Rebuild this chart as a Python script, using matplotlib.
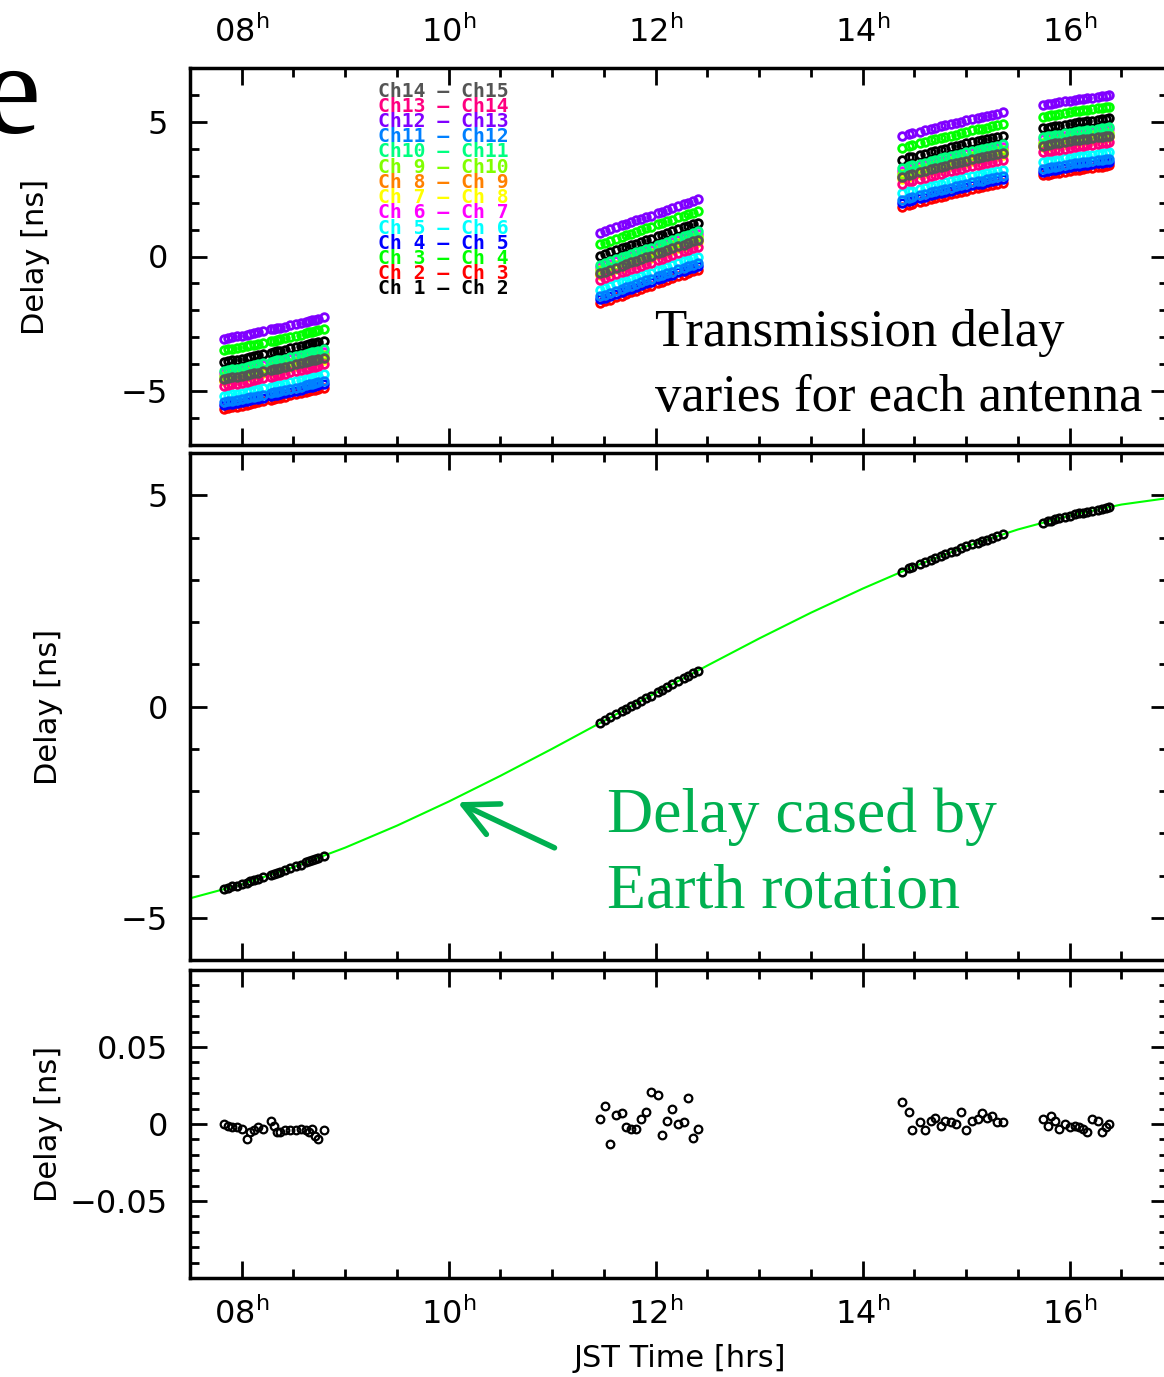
import numpy as np
import matplotlib.pyplot as plt
from matplotlib.ticker import MultipleLocator
from matplotlib.patches import FancyArrowPatch

plt.rcParams['mathtext.default'] = 'regular'
plt.rcParams['font.family'] = 'DejaVu Sans'

# model delay due to Earth rotation, read every half hour (JST hours, ns)
curve_t = [7.5, 8.0, 8.5, 9.0, 9.5, 10.0, 10.5, 11.0, 11.5, 12.0,
           12.5, 13.0, 13.5, 14.0, 14.5, 15.0, 15.5, 16.0, 16.5, 17.0]
curve_d = [-4.54, -4.21, -3.80, -3.34, -2.82, -2.25, -1.64, -1.00, -0.34, 0.32,
           0.97, 1.61, 2.22, 2.79, 3.32, 3.79, 4.19, 4.52, 4.78, 4.95]

# four observing blocks: times, measured delay, residual
t1 = [7.83, 7.87, 7.91, 7.95, 8.00, 8.05, 8.08, 8.12, 8.16, 8.21, 8.28, 8.31,
      8.34, 8.37, 8.42, 8.47, 8.52, 8.57, 8.62, 8.65, 8.68, 8.71, 8.74, 8.79]
d1 = [-4.32, -4.29, -4.26, -4.24, -4.21, -4.17, -4.14, -4.11, -4.08, -4.04, -3.98, -3.96,
      -3.93, -3.91, -3.87, -3.82, -3.78, -3.74, -3.69, -3.66, -3.63, -3.61, -3.58, -3.53]
r1 = [0.000, -0.001, -0.002, -0.002, -0.003, -0.010, -0.005, -0.004, -0.002, -0.003, 0.002, -0.001,
      -0.005, -0.005, -0.004, -0.004, -0.004, -0.003, -0.004, -0.005, -0.003, -0.008, -0.010, -0.004]

t2 = [11.46, 11.51, 11.56, 11.62, 11.67, 11.71, 11.76, 11.81, 11.86, 11.91,
      11.95, 12.02, 12.06, 12.11, 12.16, 12.22, 12.27, 12.31, 12.36, 12.41]
d2 = [-0.39, -0.33, -0.26, -0.18, -0.11, -0.06, 0.01, 0.07, 0.14, 0.20,
      0.25, 0.35, 0.40, 0.46, 0.53, 0.61, 0.67, 0.72, 0.79, 0.85]
r2 = [0.003, 0.012, -0.013, 0.006, 0.007, -0.002, -0.003, -0.003, 0.003, 0.008,
      0.021, 0.019, -0.007, 0.002, 0.010, 0.000, 0.001, 0.017, -0.009, -0.003]

t3 = [14.38, 14.45, 14.48, 14.55, 14.60, 14.66, 14.70, 14.76, 14.80, 14.85,
      14.90, 14.95, 15.00, 15.06, 15.11, 15.15, 15.20, 15.25, 15.30, 15.36]
d3 = [3.19, 3.27, 3.30, 3.37, 3.41, 3.47, 3.51, 3.56, 3.60, 3.65,
      3.69, 3.74, 3.79, 3.84, 3.88, 3.91, 3.95, 3.99, 4.03, 4.08]
r3 = [0.014, 0.008, -0.004, 0.001, -0.004, 0.002, 0.004, -0.001, 0.002, 0.001,
      0.000, 0.008, -0.004, 0.002, 0.003, 0.007, 0.004, 0.005, 0.001, 0.001]

t4 = [15.74, 15.79, 15.82, 15.86, 15.90, 15.95, 16.00, 16.05,
      16.09, 16.13, 16.17, 16.22, 16.27, 16.31, 16.35, 16.38]
d4 = [4.35, 4.38, 4.40, 4.43, 4.45, 4.49, 4.52, 4.55,
      4.57, 4.59, 4.61, 4.63, 4.66, 4.68, 4.70, 4.72]
r4 = [0.003, -0.001, 0.005, 0.002, -0.003, 0.000, -0.002, -0.001,
      -0.002, -0.003, -0.005, 0.003, 0.002, -0.005, -0.002, 0.000]

blocks_t = [t1, t2, t3, t4]
blocks_d = [d1, d2, d3, d4]
blocks_r = [r1, r2, r3, r4]

# antenna pairs: transmission delay offset (ns) and PGPLOT colour
pair_labels = ["Ch 1 \u2013 Ch 2", "Ch 2 \u2013 Ch 3", "Ch 3 \u2013 Ch 4", "Ch 4 \u2013 Ch 5",
               "Ch 5 \u2013 Ch 6", "Ch 6 \u2013 Ch 7", "Ch 7 \u2013 Ch 8", "Ch 8 \u2013 Ch 9",
               "Ch 9 \u2013 Ch10", "Ch10 \u2013 Ch11", "Ch11 \u2013 Ch12", "Ch12 \u2013 Ch13",
               "Ch13 \u2013 Ch14", "Ch14 \u2013 Ch15"]
pair_offsets = [0.41, -1.34, 0.84, -1.20, -0.85, 0.00, -0.30,
                -0.25, -0.12, 0.08, -1.09, 1.27, -0.48, -0.23]
pair_colors = ["#000000", "#ff0000", "#00ff00", "#0000ff", "#00ffff", "#ff00ff", "#ffff00",
               "#ff8000", "#80ff00", "#00ff80", "#0080ff", "#8000ff", "#ff0080", "#555555"]

hour_ticks = [8, 10, 12, 14, 16]
hour_labels = [r"$08^h$", r"$10^h$", r"$12^h$", r"$14^h$", r"$16^h$"]

W, H = 1164, 1377
fig = plt.figure(figsize=(W / 100, H / 100), dpi=100)

left = 190 / W
width = 978 / W
ax1 = fig.add_axes([left, 1 - 445 / H, width, 377 / H])
ax2 = fig.add_axes([left, 1 - 960 / H, width, 507 / H])
ax3 = fig.add_axes([left, 1 - 1278 / H, width, 308 / H])

green = "#00b050"

for ax in (ax1, ax2, ax3):
    ax.set_xlim(7.5, 16.95)
    ax.set_xticks(hour_ticks)
    ax.xaxis.set_minor_locator(MultipleLocator(0.5))
    ax.tick_params(which='both', direction='in', top=True, right=True, width=2,
                   labelsize=23, labelbottom=False)
    ax.tick_params(which='major', length=12)
    ax.tick_params(which='minor', length=6.5)
    ax.tick_params(axis='x', pad=14)
    ax.tick_params(axis='y', pad=16)
    for s in ax.spines.values():
        s.set_linewidth(2.5)

# top panel: per-pair delays
for lab, off, col in zip(pair_labels, pair_offsets, pair_colors):
    for t, d in zip(blocks_t, blocks_d):
        ax1.plot(t, np.array(d) + off, 'o', mfc='none', mec=col, ms=5.5, mew=2)
ax1.set_ylim(-7, 7)
ax1.set_yticks([-5, 0, 5])
ax1.yaxis.set_minor_locator(MultipleLocator(1))
ax1.set_xticks(hour_ticks, labels=hour_labels)
ax1.tick_params(axis='x', labeltop=True, labelbottom=False, pad=14)
ax1.set_ylabel("Delay [ns]", fontsize=22)
ax1.yaxis.set_label_coords(-0.143, 0.5)

for i, (lab, col) in enumerate(zip(pair_labels, pair_colors)):
    y = 289 - i * 15.23
    fig.text(378 / W, 1 - y / H, lab, color=col, family='DejaVu Sans Mono',
             fontweight='bold', fontsize=14.2, va='center', ha='left')

fig.text(655 / W, 1 - 346 / H, "Transmission delay", family='Liberation Serif',
         fontsize=38, va='baseline')
fig.text(655 / W, 1 - 411 / H, "varies for each antenna", family='Liberation Serif',
         fontsize=38, va='baseline')

# middle panel: measured delay and Earth rotation model
ax2.plot(curve_t, curve_d, '-', color='#00ff00', lw=1.5, zorder=1)
for t, d in zip(blocks_t, blocks_d):
    ax2.plot(t, d, 'o', mfc='none', mec='black', ms=5.5, mew=1.8, zorder=2)
ax2.set_ylim(-6, 6)
ax2.set_yticks([-5, 0, 5])
ax2.yaxis.set_minor_locator(MultipleLocator(1))
ax2.set_ylabel("Delay [ns]", fontsize=22)
ax2.yaxis.set_label_coords(-0.130, 0.5)

fig.text(607 / W, 1 - 832 / H, "Delay cased by", family='Liberation Serif',
         fontsize=46, color=green, va='baseline')
fig.text(607 / W, 1 - 908 / H, "Earth rotation", family='Liberation Serif',
         fontsize=46, color=green, va='baseline')
arrow = FancyArrowPatch((557 / W, 1 - 849 / H), (455 / W, 1 - 801 / H),
                        transform=fig.transFigure,
                        arrowstyle='->,head_length=1.1,head_width=0.55',
                        mutation_scale=22, lw=4, color=green, capstyle='round',
                        joinstyle='round')
fig.add_artist(arrow)

# bottom panel: residuals
for t, r in zip(blocks_t, blocks_r):
    ax3.plot(t, r, 'o', mfc='none', mec='black', ms=5.5, mew=1.6)
ax3.set_ylim(-0.1, 0.1)
ax3.set_yticks([-0.05, 0, 0.05], labels=["\u22120.05", "0", "0.05"])
ax3.yaxis.set_minor_locator(MultipleLocator(0.01))
ax3.set_xticks(hour_ticks, labels=hour_labels)
ax3.tick_params(axis='x', labelbottom=True, pad=14)
ax3.set_ylabel("Delay [ns]", fontsize=22)
ax3.yaxis.set_label_coords(-0.130, 0.5)
ax3.set_xlabel("JST Time [hrs]", fontsize=22)
ax3.xaxis.set_label_coords(0.501, -0.215)

fig.text(-17 / W, 1 - 133 / H, "e", family='Liberation Serif', fontsize=94,
         va='baseline')

fig.savefig("out.png", dpi=100)
